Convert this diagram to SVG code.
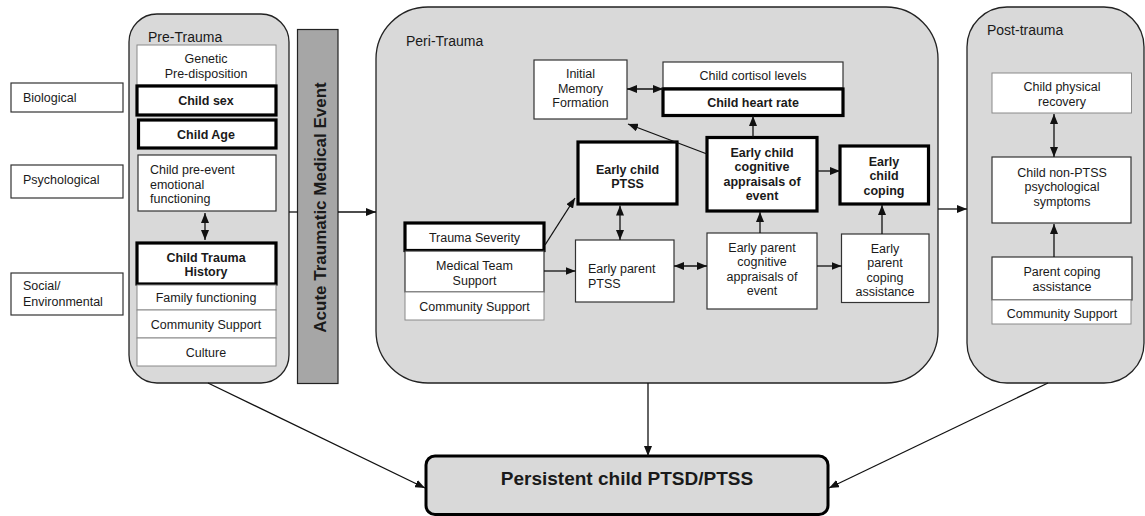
<svg xmlns="http://www.w3.org/2000/svg" width="1145" height="516" viewBox="0 0 1145 516">
<defs>
<marker id="ah" viewBox="0 0 10 8" refX="10" refY="4" markerWidth="10" markerHeight="8" markerUnits="userSpaceOnUse" orient="auto-start-reverse">
<path d="M0,0 L10,4 L0,8 z" fill="#111"/>
</marker>
</defs>
<style>
text{font-family:"Liberation Sans",Arial,sans-serif;font-size:12.5px;fill:#1a1a1a}
.c{text-anchor:middle}
.b{font-weight:bold}
.ttl{font-size:14px}
.cont{fill:#d9d9d9;stroke:#222;stroke-width:1.3}
.box{fill:#fff;stroke:#333;stroke-width:1.2}
.gbox{fill:#fff;stroke:#8a8a8a;stroke-width:1}
.tbox{fill:#fff;stroke:#000;stroke-width:3.2}
.ln{fill:none;stroke:#111;stroke-width:1.3}
.ar{fill:none;stroke:#111;stroke-width:1.3;marker-end:url(#ah)}
.dar{fill:none;stroke:#111;stroke-width:1.3;marker-end:url(#ah);marker-start:url(#ah)}
</style>

<!-- left side labels -->
<g id="lbl-biological"><rect class="box" x="11" y="83" width="112" height="29"/><text x="23" y="101.5">Biological</text></g>
<g id="lbl-psychological"><rect class="box" x="11" y="165" width="112" height="33"/><text x="23" y="183.5">Psychological</text></g>
<g id="lbl-social"><rect class="box" x="11" y="273" width="112" height="42"/><text x="23" y="290">Social/</text><text x="23" y="305.5">Environmental</text></g>

<!-- Pre-Trauma -->
<g id="pre-trauma">
<rect class="cont" x="129" y="14" width="160" height="369" rx="28"/>
<text class="ttl" x="148" y="41.5">Pre-Trauma</text>
</g>
<g id="genetic"><rect class="gbox" x="137" y="45" width="139" height="40"/><text class="c" x="206" y="63">Genetic</text><text class="c" x="206" y="77.5">Pre-disposition</text></g>
<g id="child-sex"><rect class="tbox" x="137" y="86" width="139" height="29"/><text class="c b" x="206" y="104.5">Child sex</text></g>
<g id="child-age"><rect class="tbox" x="138.5" y="120" width="137.5" height="28"/><text class="c b" x="206" y="138.5">Child Age</text></g>
<g id="child-pre-event"><rect class="box" x="138" y="155" width="138" height="56"/><text x="150" y="174">Child pre-event</text><text x="150" y="188.5">emotional</text><text x="150" y="203">functioning</text></g>
<g id="child-trauma-history"><rect class="tbox" x="137" y="243" width="139" height="41"/><text class="c b" x="206" y="262">Child Trauma</text><text class="c b" x="206" y="276">History</text></g>
<g id="family-functioning"><rect class="gbox" x="137" y="285" width="139" height="25"/><text class="c" x="206" y="301.5">Family functioning</text></g>
<g id="pre-community"><rect class="gbox" x="137" y="310" width="139" height="28"/><text class="c" x="206" y="328.5">Community Support</text></g>
<g id="culture"><rect class="gbox" x="137" y="338" width="139" height="28"/><text class="c" x="206" y="356.5">Culture</text></g>

<!-- Acute event bar -->
<g id="acute-event">
<rect x="297.5" y="29.5" width="40.5" height="354" fill="#a6a6a6" stroke="#222" stroke-width="1.2"/>
<text class="c b" transform="translate(325.5,207.5) rotate(-90)" style="font-size:17px">Acute Traumatic Medical Event</text>
</g>

<!-- Peri-Trauma -->
<g id="peri-trauma">
<rect class="cont" x="376" y="7" width="562" height="376" rx="52"/>
<text class="ttl" x="406" y="46">Peri-Trauma</text>
</g>
<g id="initial-memory"><rect class="box" x="534" y="60" width="93" height="59"/><text class="c" x="580.5" y="78">Initial</text><text class="c" x="580.5" y="92.5">Memory</text><text class="c" x="580.5" y="107">Formation</text></g>
<g id="cortisol"><rect class="box" x="663" y="62" width="180" height="26"/><text class="c" x="753" y="79.5">Child cortisol levels</text></g>
<g id="heart-rate"><rect class="tbox" x="663" y="89" width="180" height="26.5"/><text class="c b" x="753" y="107">Child heart rate</text></g>
<g id="early-child-ptss"><rect class="tbox" x="578" y="142" width="99" height="62"/><text class="c b" x="627.5" y="173.5">Early child</text><text class="c b" x="627.5" y="188">PTSS</text></g>
<g id="early-child-cog"><rect class="tbox" x="707" y="137.5" width="110" height="73.5"/><text class="c b" x="762" y="156.5">Early child</text><text class="c b" x="762" y="171">cognitive</text><text class="c b" x="762" y="185.5">appraisals of</text><text class="c b" x="762" y="200">event</text></g>
<g id="early-child-coping"><rect class="tbox" x="840" y="146" width="88.5" height="58"/><text class="c b" x="884" y="165.5">Early</text><text class="c b" x="884" y="180">child</text><text class="c b" x="884" y="194.5">coping</text></g>
<g id="trauma-severity"><rect class="tbox" x="405" y="223" width="139" height="27.5"/><text class="c" x="474.5" y="241.5">Trauma Severity</text></g>
<g id="medical-team"><rect class="box" x="405" y="251" width="139" height="41"/><text class="c" x="474.5" y="270">Medical Team</text><text class="c" x="474.5" y="284.5">Support</text></g>
<g id="peri-community"><rect class="gbox" x="405" y="292" width="139" height="28"/><text class="c" x="474.5" y="310.5">Community Support</text></g>
<g id="early-parent-ptss"><rect class="box" x="575.5" y="240" width="98.5" height="62"/><text x="588" y="273">Early parent</text><text x="588" y="287.5">PTSS</text></g>
<g id="early-parent-cog"><rect class="box" x="707" y="233" width="110" height="76"/><text class="c" x="762" y="251.5">Early parent</text><text class="c" x="762" y="266">cognitive</text><text class="c" x="762" y="280.5">appraisals of</text><text class="c" x="762" y="295">event</text></g>
<g id="early-parent-coping"><rect class="box" x="841.5" y="234" width="87.5" height="68.5"/><text class="c" x="885" y="252.5">Early</text><text class="c" x="885" y="267">parent</text><text class="c" x="885" y="281.5">coping</text><text class="c" x="885" y="296">assistance</text></g>

<!-- Post-trauma -->
<g id="post-trauma">
<rect class="cont" x="967" y="7" width="177" height="376" rx="40"/>
<text class="ttl" x="987" y="35">Post-trauma</text>
</g>
<g id="physical-recovery"><rect class="gbox" x="992" y="73" width="139.5" height="40"/><text class="c" x="1062" y="91">Child physical</text><text class="c" x="1062" y="105.5">recovery</text></g>
<g id="non-ptss"><rect class="box" x="992" y="157" width="139" height="66"/><text class="c" x="1062" y="176.5">Child non-PTSS</text><text class="c" x="1062" y="191">psychological</text><text class="c" x="1062" y="205.5">symptoms</text></g>
<g id="parent-coping"><rect class="box" x="992" y="257" width="140" height="43"/><text class="c" x="1062" y="276">Parent coping</text><text class="c" x="1062" y="290.5">assistance</text></g>
<g id="post-community"><rect class="gbox" x="992" y="300" width="139" height="24"/><text class="c" x="1062" y="317.5">Community Support</text></g>

<!-- Outcome -->
<g id="outcome"><rect x="426" y="456" width="402" height="58.5" rx="9" fill="#d9d9d9" stroke="#000" stroke-width="3"/><text class="c b" x="627" y="485" style="font-size:19px">Persistent child PTSD/PTSS</text></g>

<!-- connectors -->
<g id="connectors">
<path class="dar" d="M205,213 V240"/>
<path class="ln" d="M289,212 H297.5"/>
<path class="ar" d="M338,212 H376"/>
<path class="dar" d="M627,89 H663"/>
<path class="ar" d="M707,154 L628,124"/>
<path class="ar" d="M753,137.5 V116"/>
<path class="ar" d="M817,171 H840"/>
<path class="ar" d="M760,233 V212"/>
<path class="ar" d="M882,234 V205"/>
<path class="ar" d="M817,266 H841.5"/>
<path class="dar" d="M674,266 H707"/>
<path class="dar" d="M620,205.5 V240"/>
<path class="ar" d="M545,245 L575,198"/>
<path class="ar" d="M544,271 H575.5"/>
<path class="ar" d="M938,209 H967"/>
<path class="dar" d="M1054,114 V157"/>
<path class="ar" d="M1054,257 V224"/>
<path class="ar" d="M648,383 V456"/>
<path class="ar" d="M208,383 L425,488"/>
<path class="ar" d="M1048,383 L829,488"/>
</g>
</svg>
